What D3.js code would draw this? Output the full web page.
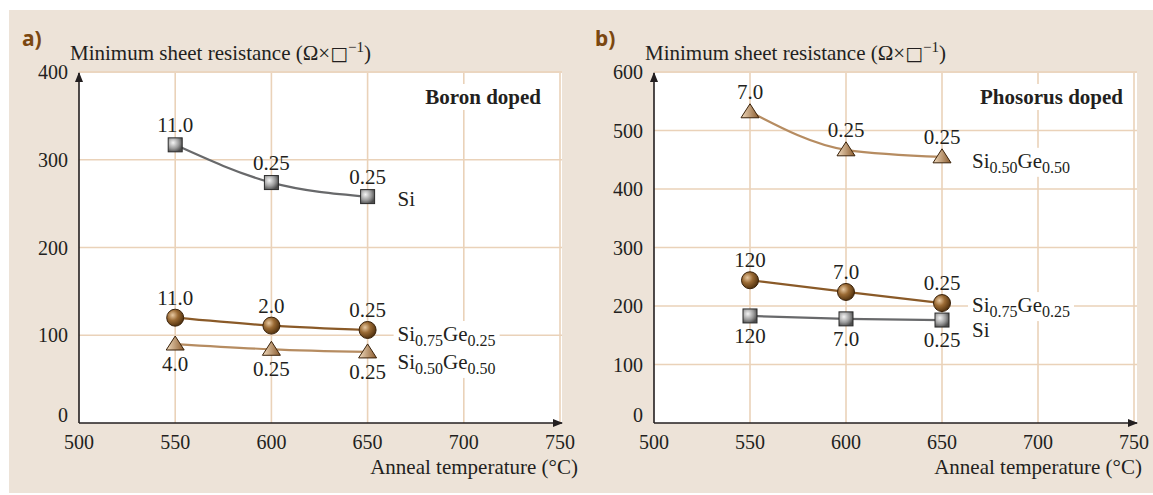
<!DOCTYPE html>
<html>
<head>
<meta charset="utf-8">
<title>Minimum sheet resistance vs anneal temperature</title>
<script src="https://cdn.jsdelivr.net/npm/d3@7/dist/d3.min.js"></script>
<style>
  body { margin: 0; background: #fff; }
  text { font-family: "Liberation Serif", "Times New Roman", serif; fill: #231f20; }
  .panel-tag { font-family: "Noto Sans", "Open Sans", sans-serif; font-weight: bold; fill: #7b4710; }
</style>
</head>
<body>
<script>
// data
var temps = [550, 600, 650];
var xTicks = [500, 550, 600, 650, 700, 750];
var yTicksA = [0, 100, 200, 300, 400];
var yTicksB = [0, 100, 200, 300, 400, 500, 600];

var boronSi = [317, 274, 258];
var boronSiLabels = ["11.0", "0.25", "0.25"];
var boronSiGe25 = [120, 111, 106];
var boronSiGe25Labels = ["11.0", "2.0", "0.25"];
var boronSiGe50 = [90, 84, 81];
var boronSiGe50Labels = ["4.0", "0.25", "0.25"];

var phosSiGe50 = [532, 467, 455];
var phosSiGe50Labels = ["7.0", "0.25", "0.25"];
var phosSiGe25 = [244, 224, 205];
var phosSiGe25Labels = ["120", "7.0", "0.25"];
var phosSi = [183, 178, 176];
var phosSiLabels = ["120", "7.0", "0.25"];

var width = 1153, height = 495;
var svg = d3.select("body").append("svg")
    .attr("width", width)
    .attr("height", height);

var defs = svg.append("defs");
function radial(id, stops) {
    var g = defs.append("radialGradient").attr("id", id)
        .attr("cx", "35%").attr("cy", "35%").attr("r", "70%");
    stops.forEach(function(s) {
        g.append("stop").attr("offset", s[0]).attr("stop-color", s[1]);
    });
}
radial("gSquare", [["0%", "#f4f4f4"], ["60%", "#9a9a9a"], ["100%", "#4d4d4d"]]);
radial("gCircle", [["0%", "#e8c9a2"], ["45%", "#9a6a34"], ["100%", "#4d2e0c"]]);
var lg = defs.append("linearGradient").attr("id", "gTri")
    .attr("x1", "0%").attr("y1", "0%").attr("x2", "100%").attr("y2", "0%");
lg.append("stop").attr("offset", "0%").attr("stop-color", "#f1dcc0");
lg.append("stop").attr("offset", "100%").attr("stop-color", "#8a5a2c");

defs.append("marker").attr("id", "arrow")
    .attr("viewBox", "0 0 10 10").attr("refX", 9).attr("refY", 5)
    .attr("markerWidth", 10).attr("markerHeight", 10)
    .attr("markerUnits", "userSpaceOnUse")
    .attr("orient", "auto")
  .append("path").attr("d", "M0,1 L10,5 L0,9 Z").attr("fill", "#231f20");

// beige background
svg.append("rect").attr("x", 9).attr("y", 10)
    .attr("width", width - 9).attr("height", 483)
    .attr("fill", "#ede3d8");

var styles = {
    Si: { color: "#68696b", marker: "square" },
    Ge25: { color: "#8a5a28", marker: "circle" },
    Ge50: { color: "#b68c61", marker: "triangle" }
};

// white box behind a label so the grid breaks around it
function backing(g, t, pad) {
    var b = t.node().getBBox();
    g.insert("rect", function() { return t.node(); })
        .attr("x", b.x - pad).attr("y", b.y - 1)
        .attr("width", b.width + 2 * pad).attr("height", b.height + 2)
        .attr("fill", "#fff");
}

function drawPanel(p) {
    var x = d3.scaleLinear().domain([500, 750]).range([p.x0, p.x1]);
    var y = d3.scaleLinear().domain([0, p.yMax]).range([423, 72]);
    var g = svg.append("g");

    g.append("rect").attr("x", p.x0).attr("y", 73)
        .attr("width", p.plotRight - p.x0).attr("height", 423 - 73)
        .attr("fill", "#fff");

    // grid
    g.selectAll("line.vg").data(xTicks.slice(1)).enter().append("line")
        .attr("x1", function(d) { return x(d); }).attr("x2", function(d) { return x(d); })
        .attr("y1", 73).attr("y2", 423)
        .attr("stroke", "#ead2b9").attr("stroke-width", 1.6);
    g.selectAll("line.hg").data(p.yTicks.slice(1)).enter().append("line")
        .attr("x1", p.x0).attr("x2", p.plotRight)
        .attr("y1", function(d) { return y(d); }).attr("y2", function(d) { return y(d); })
        .attr("stroke", "#ead2b9").attr("stroke-width", 1.6);

    // axes
    g.append("line").attr("x1", p.x0).attr("y1", 423).attr("x2", p.x0).attr("y2", 73)
        .attr("stroke", "#231f20").attr("stroke-width", 1.6).attr("marker-end", "url(#arrow)");
    g.append("line").attr("x1", p.x0).attr("y1", 423).attr("x2", p.arrowX).attr("y2", 423)
        .attr("stroke", "#231f20").attr("stroke-width", 1.6).attr("marker-end", "url(#arrow)");

    g.selectAll("text.yt").data(p.yTicks).enter().append("text")
        .attr("x", p.x0 - 11)
        .attr("y", function(d) { return y(d) + (d === 0 ? -8 : 0); })
        .attr("text-anchor", "end").attr("dominant-baseline", "central")
        .attr("font-size", 20)
        .text(function(d) { return d; });
    g.selectAll("text.xt").data(xTicks).enter().append("text")
        .attr("x", function(d) { return x(d); }).attr("y", 442)
        .attr("text-anchor", "middle").attr("dominant-baseline", "central")
        .attr("font-size", 20)
        .text(function(d) { return d; });

    // titles
    g.append("text").attr("class", "panel-tag").attr("x", p.tagX).attr("y", 46)
        .attr("font-size", 21).text(p.tag);
    var yt = g.append("text").attr("x", p.x0 - 9).attr("y", 60).attr("font-size", 21);
    yt.append("tspan").text("Minimum sheet resistance (\u03A9\u00D7");
    yt.append("tspan").style("font-family", "'DejaVu Sans'").attr("font-size", 19).text("\u25A1");
    yt.append("tspan").attr("font-size", 15).attr("dy", -8).text("\u22121");
    yt.append("tspan").attr("dy", 8).text(")");
    g.append("text").attr("x", p.xTitleEnd).attr("y", 474)
        .attr("text-anchor", "end").attr("font-size", 21)
        .text("Anneal temperature (\u00B0C)");
    var tt = g.append("text").attr("x", p.titleEnd).attr("y", 104)
        .attr("text-anchor", "end").attr("font-size", 21).attr("font-weight", "bold")
        .text(p.title);
    backing(g, tt, 4);

    var line = d3.line()
        .x(function(d) { return x(d.t); })
        .y(function(d) { return y(d.v); })
        .curve(d3.curveMonotoneX);

    p.series.forEach(function(s) {
        var st = styles[s.key];
        var pts = temps.map(function(t, i) { return { t: t, v: s.values[i], lab: s.labels[i] }; });
        g.append("path").datum(pts).attr("d", line)
            .attr("fill", "none").attr("stroke", st.color).attr("stroke-width", 2.2);

        var m = g.selectAll(null).data(pts).enter().append("g")
            .attr("transform", function(d) { return "translate(" + x(d.t) + "," + y(d.v) + ")"; });
        if (st.marker === "square") {
            m.append("rect").attr("x", -7).attr("y", -7).attr("width", 14).attr("height", 14)
                .attr("fill", "url(#gSquare)").attr("stroke", "#2b2b2b").attr("stroke-width", 1);
        } else if (st.marker === "circle") {
            m.append("circle").attr("r", 8.5)
                .attr("fill", "url(#gCircle)").attr("stroke", "#3a220a").attr("stroke-width", 1);
        } else {
            m.append("path").attr("d", "M0,-8 L9,6 L-9,6 Z")
                .attr("fill", "url(#gTri)").attr("stroke", "#3a220a").attr("stroke-width", 1);
        }
        m.append("text")
            .attr("y", s.below ? 20 : -20)
            .attr("text-anchor", "middle").attr("dominant-baseline", "central")
            .attr("font-size", 21)
            .text(function(d) { return d.lab; });

        var last = pts[pts.length - 1];
        var lt = g.append("text")
            .attr("x", x(last.t) + 30).attr("y", y(last.v) + s.legendDy + 7)
            .attr("font-size", 21);
        if (s.key === "Si") {
            lt.text("Si");
        } else {
            var sub = s.key === "Ge25" ? ["0.75", "0.25"] : ["0.50", "0.50"];
            lt.append("tspan").text("Si");
            lt.append("tspan").attr("font-size", 16).attr("dy", 5).text(sub[0]);
            lt.append("tspan").attr("dy", -5).text("Ge");
            lt.append("tspan").attr("font-size", 16).attr("dy", 5).text(sub[1]);
        }
        backing(g, lt, 4);
    });
}

drawPanel({
    tag: "a)", tagX: 22, x0: 79, x1: 560, plotRight: 562, arrowX: 562,
    yMax: 400, yTicks: yTicksA, xTitleEnd: 578, titleEnd: 541,
    title: "Boron doped",
    series: [
        { key: "Si", values: boronSi, labels: boronSiLabels, below: false, legendDy: 2 },
        { key: "Ge25", values: boronSiGe25, labels: boronSiGe25Labels, below: false, legendDy: 4 },
        { key: "Ge50", values: boronSiGe50, labels: boronSiGe50Labels, below: true, legendDy: 10 }
    ]
});

drawPanel({
    tag: "b)", tagX: 595, x0: 654, x1: 1134, plotRight: 1137, arrowX: 1137,
    yMax: 600, yTicks: yTicksB, xTitleEnd: 1142, titleEnd: 1123,
    title: "Phosorus doped",
    series: [
        { key: "Ge50", values: phosSiGe50, labels: phosSiGe50Labels, below: false, legendDy: 4 },
        { key: "Ge25", values: phosSiGe25, labels: phosSiGe25Labels, below: false, legendDy: 2 },
        { key: "Si", values: phosSi, labels: phosSiLabels, below: true, legendDy: 10 }
    ]
});
</script>
</body>
</html>
